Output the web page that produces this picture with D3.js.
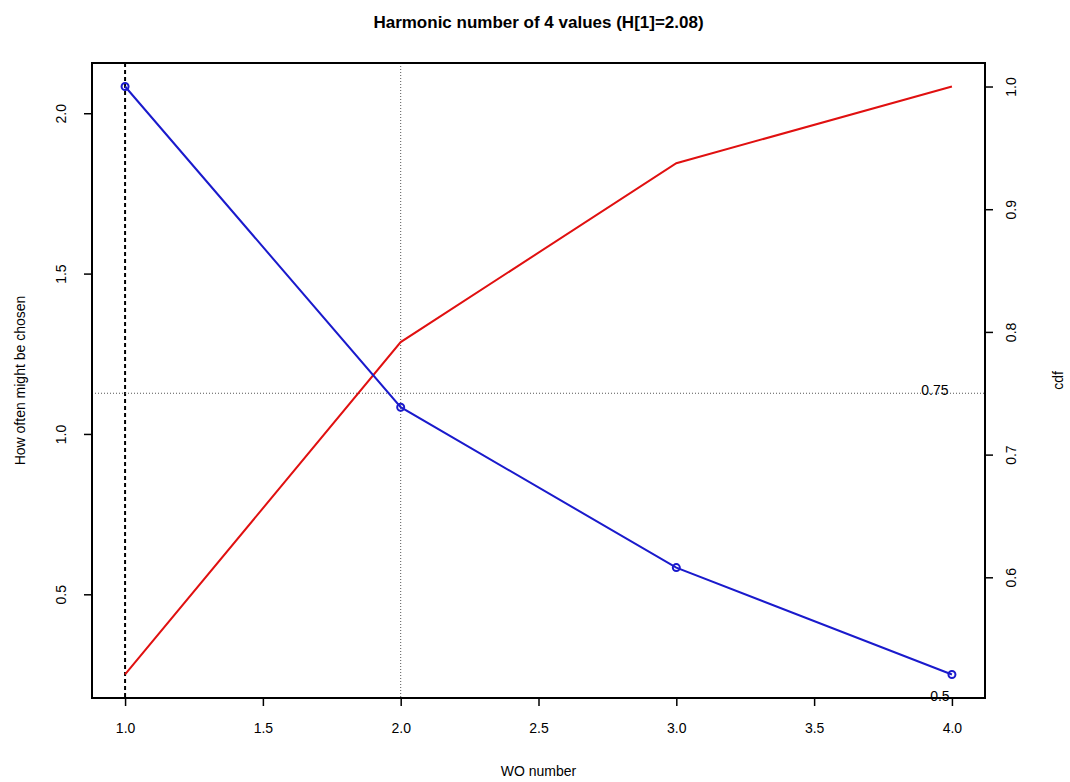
<!DOCTYPE html>
<html><head><meta charset="utf-8">
<script src="https://cdn.jsdelivr.net/npm/d3@7"></script>
<style>body{margin:0;background:#fff}text{font-family:"Liberation Sans",Arial,sans-serif}</style>
</head><body><svg id="c" width="1070" height="782"></svg>
<script>
const woNumbers = [1, 2, 3, 4];
const howOften = [2.0833, 1.0833, 0.5833, 0.25];
const cdfValues = [0.5208, 0.7917, 0.9375, 1.0];
const xTicks = [1.0, 1.5, 2.0, 2.5, 3.0, 3.5, 4.0];
const yLeftTicks = [0.5, 1.0, 1.5, 2.0];
const yRightTicks = [0.6, 0.7, 0.8, 0.9, 1.0];
const threshold = 0.75;
const thresholdX = 2;
const title = "Harmonic number of 4 values (H[1]=2.08)";

const svg = d3.select("#c");
const L = 92, R = 985, T = 63, B = 698;
const ext = (a, b) => { const r = b - a; return [a - 0.04 * r, b + 0.04 * r]; };
const x = d3.scaleLinear().domain(ext(1, 4)).range([L, R]);
const yL = d3.scaleLinear().domain(ext(d3.min(howOften), d3.max(howOften))).range([B, T]);
const yR = d3.scaleLinear().domain(ext(d3.min(cdfValues), d3.max(cdfValues))).range([B, T]);

// reference lines
svg.append("line").attr("x1", x(1)).attr("x2", x(1)).attr("y1", T).attr("y2", B)
  .attr("stroke", "#000").attr("stroke-width", 2).attr("stroke-dasharray", "4,3");
svg.append("line").attr("x1", x(thresholdX)).attr("x2", x(thresholdX)).attr("y1", T).attr("y2", B)
  .attr("stroke", "#555").attr("stroke-width", 1).attr("stroke-dasharray", "1,2");
svg.append("line").attr("x1", L).attr("x2", R).attr("y1", yR(threshold)).attr("y2", yR(threshold))
  .attr("stroke", "#555").attr("stroke-width", 1).attr("stroke-dasharray", "1,2");

// red cdf line
svg.append("path").datum(woNumbers.map((w, i) => [w, cdfValues[i]]))
  .attr("fill", "none").attr("stroke", "#e01010").attr("stroke-width", 2)
  .attr("d", d3.line().x(d => x(d[0])).y(d => yR(d[1])));
// blue line
svg.append("path").datum(woNumbers.map((w, i) => [w, howOften[i]]))
  .attr("fill", "none").attr("stroke", "#1a1acc").attr("stroke-width", 2)
  .attr("d", d3.line().x(d => x(d[0])).y(d => yL(d[1])));
svg.selectAll("circle.p").data(woNumbers.map((w, i) => [w, howOften[i]])).enter().append("circle")
  .attr("cx", d => x(d[0])).attr("cy", d => yL(d[1])).attr("r", 3.5)
  .attr("fill", "none").attr("stroke", "#1a1acc").attr("stroke-width", 2);

// labels
svg.append("text").attr("x", x(4) - 17).attr("y", yR(threshold) + 2).attr("text-anchor", "middle")
  .attr("font-size", 14).text("0.75");
svg.append("text").attr("x", x(4) - 12).attr("y", yR(0.5) + 1).attr("text-anchor", "middle")
  .attr("font-size", 14).text("0.5");

// box
svg.append("rect").attr("x", L).attr("y", T).attr("width", R - L).attr("height", B - T)
  .attr("fill", "none").attr("stroke", "#000").attr("stroke-width", 2);

// axes
const gx = svg.append("g").attr("transform", `translate(0,${B})`)
  .call(d3.axisBottom(x).tickValues(xTicks).tickFormat(d3.format(".1f")).tickSize(8).tickPadding(17));
const gl = svg.append("g").attr("transform", `translate(${L},0)`)
  .call(d3.axisLeft(yL).tickValues(yLeftTicks).tickFormat(d3.format(".1f")).tickSize(8).tickPadding(0));
const gr = svg.append("g").attr("transform", `translate(${R},0)`)
  .call(d3.axisRight(yR).tickValues(yRightTicks).tickFormat(d3.format(".1f")).tickSize(8).tickPadding(0));
[gx, gl, gr].forEach(g => {
  g.select(".domain").remove();
  g.selectAll("line").attr("stroke", "#000").attr("stroke-width", 1.5);
  g.selectAll("text").attr("font-size", 14).attr("fill", "#000")
    .attr("font-family", "'Liberation Sans',Arial,sans-serif");
});
gl.selectAll("text").attr("text-anchor", "middle").attr("dy", null).attr("x", null)
  .attr("transform", "translate(-31,0) rotate(-90)").attr("dy", "0.35em");
gr.selectAll("text").attr("text-anchor", "middle").attr("dy", null).attr("x", null)
  .attr("transform", "translate(26,0) rotate(-90)").attr("dy", "0.35em");

// titles
svg.append("text").attr("x", (L + R) / 2).attr("y", 28).attr("text-anchor", "middle")
  .attr("font-size", 17).attr("font-weight", "bold").text(title);
svg.append("text").attr("x", (L + R) / 2).attr("y", 776).attr("text-anchor", "middle")
  .attr("font-size", 14).text("WO number");
svg.append("text").attr("transform", `translate(25,${(T + B) / 2}) rotate(-90)`).attr("text-anchor", "middle")
  .attr("font-size", 14).text("How often might be chosen");
svg.append("text").attr("transform", `translate(1063,${(T + B) / 2}) rotate(-90)`).attr("text-anchor", "middle")
  .attr("font-size", 14).text("cdf");
</script></body></html>
